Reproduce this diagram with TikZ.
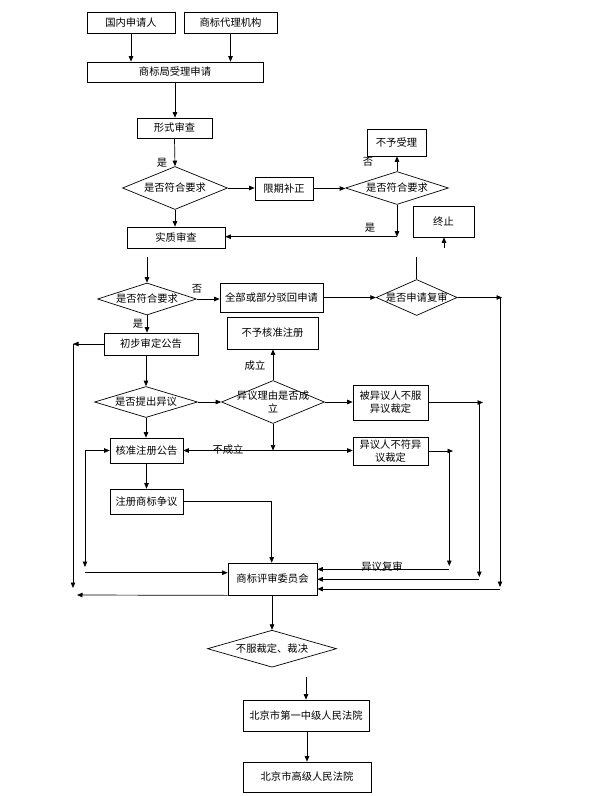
\documentclass[tikz,border=0pt]{standalone}
\usepackage{fontspec}
\setmainfont{Noto Sans CJK SC}
\usetikzlibrary{arrows.meta,shapes.geometric}
\begin{document}
\begin{tikzpicture}[x=1pt,y=-1pt,
  every node/.style={font=\fontsize{10.3}{12}\selectfont},
  box/.style={draw,rectangle,inner sep=0pt,align=center,line width=0.7pt},
  dia/.style={draw,diamond,inner sep=0pt,line width=0.7pt},
  arr/.style={-{Triangle[length=5.5pt,width=4.5pt]},line width=0.7pt},
  ln/.style={line width=0.7pt},
  lbl/.style={inner sep=0pt}]
\path[use as bounding box,fill=white] (0,0) rectangle (607,796);

% boxes
\node[box,minimum width=88pt,minimum height=21pt] (a1) at (131,22.5) {国内申请人};
\node[box,minimum width=93pt,minimum height=21pt] (a2) at (230.5,22.5) {商标代理机构};
\node[box,minimum width=176pt,minimum height=20pt] (a3) at (175,72) {商标局受理申请};
\node[box,minimum width=75pt,minimum height=20pt] (a4) at (174.5,128) {形式审查};
\node[dia,minimum width=105pt,minimum height=43pt,label={center:是否符合要求}] (d1) at (175,188) {};
\node[box,minimum width=58pt,minimum height=23pt] (a5) at (284,188.5) {限期补正};
\node[dia,minimum width=103pt,minimum height=33pt,label={center:是否符合要求}] (d2) at (397,188) {};
\node[box,minimum width=59pt,minimum height=27pt] (a6) at (396.5,142.5) {不予受理};
\node[box,minimum width=61pt,minimum height=31pt] (a7) at (443.5,221.5) {终止};
\node[box,minimum width=98pt,minimum height=21pt] (a8) at (176,237.5) {实质审查};
\node[dia,minimum width=99pt,minimum height=32pt,label={center:是否符合要求}] (d3) at (147,299) {};
\node[box,minimum width=103pt,minimum height=29pt] (a9) at (271.5,297.5) {全部或部分驳回申请};
\node[dia,minimum width=81pt,minimum height=36pt,label={center:是否申请复审}] (d6) at (416.7,297.5) {};
\node[box,minimum width=91pt,minimum height=32pt] (a10) at (272.5,333) {不予核准注册};
\node[box,minimum width=94pt,minimum height=22pt] (a11) at (151,344) {初步审定公告};
\node[dia,minimum width=103pt,minimum height=31pt,label={center:是否提出异议}] (d4) at (146,402) {};
\node[dia,minimum width=103pt,minimum height=43pt,label={[align=center,font=\fontsize{10.3}{13}\selectfont]center:异议理由是否成\\立}] (d5) at (273,402) {};
\node[box,minimum width=75pt,minimum height=35pt,font=\fontsize{10.3}{13}\selectfont] (a12) at (390.5,402.5) {被异议人不服\\异议裁定};
\node[box,minimum width=73pt,minimum height=25pt] (a13) at (146.5,450.5) {核准注册公告};
\node[box,minimum width=75pt,minimum height=28pt,font=\fontsize{10.3}{13}\selectfont] (a14) at (390.5,451) {异议人不符异\\议裁定};
\node[box,minimum width=73pt,minimum height=25pt] (a15) at (146.5,501.5) {注册商标争议};
\node[box,minimum width=89pt,minimum height=32pt] (a16) at (272.5,579) {商标评审委员会};
\node[dia,minimum width=129pt,minimum height=37pt,label={center:不服裁定、裁决}] (d7) at (272,648.7) {};
\node[box,minimum width=126pt,minimum height=31pt] (a17) at (306,715.5) {北京市第一中级人民法院};
\node[box,minimum width=128pt,minimum height=30pt] (a18) at (307,777) {北京市高级人民法院};

% free coordinates
\coordinate (g1) at (147,257);
\coordinate (g2) at (416.7,257);
\coordinate (g3) at (444,248);
\coordinate (g4) at (306,677);
\coordinate (pD2) at (397,236.7);
\coordinate (pD5) at (273,450.5);
\coordinate (r1) at (502,297.5);
\coordinate (r1b) at (500,297.5);
\coordinate (r1c) at (500,587);
\coordinate (r2) at (483,402.5);
\coordinate (r2b) at (479.3,402.5);
\coordinate (r2c) at (479.3,577);
\coordinate (r3) at (453,451);
\coordinate (r3b) at (449.3,451);
\coordinate (r3c) at (449.3,566);
\coordinate (l1) at (73,344);
\coordinate (l1c) at (73,588);
\coordinate (l2) at (77,595);
\coordinate (l3) at (85,450.5);
\coordinate (l3c) at (85,567);
\coordinate (q1) at (271.7,501.5);

% connectors
\draw[arr] (a1) -- (a1 |- a3.north);
\draw[arr] (a2) -- (a2 |- a3.north);
\draw[arr] (a3.south) -- (a3.south |- a4.north);
\draw[arr] (a4.south) -- (d1.north);
\node[lbl] at (162,163) {是};
\draw[arr] (d1.east) -- (d1.east -| a5.west);
\draw[arr] (a5.east) -- (a5.east -| d2.west);
\draw[arr] (d2.north) -- (d2.north |- a6.south);
\node[lbl] at (368,162) {否};
\draw[arr] (d2.south) -- (pD2);
\draw[arr] (pD2) -- (pD2 -| a8.east);
\node[lbl] at (370,228) {是};
\draw[arr] (d1.south) -- (d1.south |- a8.north);
\draw[arr] (g1) -- (d3.north);
\draw[arr] (d3.east) -- (d3.east -| a9.west);
\node[lbl] at (197,289) {否};
\draw[arr] (d3.south) -- (d3.south |- a11.north);
\node[lbl] at (138,324) {是};
\draw[arr] (a9.east) -- (d6.west);
\draw[ln] (d6.north) -- (g2);
\draw[arr] (g3) -- (g3 |- a7.south);
\draw[arr] (d6.east) -- (r1);
\draw[arr] (r1b) -- (r1c);
\draw[arr] (500,589) -- (a16.east |- 0,589);
\draw[arr] (a11.west) -- (l1);
\draw[arr] (l1) -- (l1c);
\draw[arr] (a16.south west) -- (l2);
\draw[arr] (d4.north |- a11.south) -- (d4.north);
\draw[arr] (d4.east) -- (d5.west);
\draw[arr] (d5.north) -- (d5.north |- a10.south);
\node[lbl] at (255,366) {成立};
\draw[arr] (d5.south) -- (pD5);
\draw[arr] (pD5) -- (pD5 -| a13.east);
\draw[arr] (pD5) -- (pD5 -| a14.west);
\node[lbl] at (228,450) {不成立};
\draw[arr] (d4.south) -- (d4.south |- a13.north);
\draw[arr] (d5.east) -- (d5.east -| a12.west);
\draw[arr] (a12.east) -- (r2);
\draw[arr] (r2b) -- (r2c);
\draw[arr] (479.3,579.3) -- (a16.east |- 0,579.3);
\draw[arr] (a14.east) -- (r3);
\draw[arr] (r3b) -- (r3c);
\draw[arr] (449.3,569.3) -- (a16.east |- 0,569.3);
\node[lbl] at (382,567) {异议复审};
\draw[arr] (l3) -- (a13.west);
\draw[arr] (l3) -- (l3c);
\draw[arr] (85,572.7) -- (a16.west |- 0,572.7);
\draw[arr] (a13.south) -- (a15.north);
\draw[ln] (a15.east) -- (q1);
\draw[arr] (q1) -- (q1 |- a16.north);
\draw[arr] (a16.south -| d7.north) -- (d7.north);
\draw[arr] (g4) -- (a17.north);
\draw[arr] (a17.south -| a18.north) -- (a18.north);
\end{tikzpicture}
\end{document}
